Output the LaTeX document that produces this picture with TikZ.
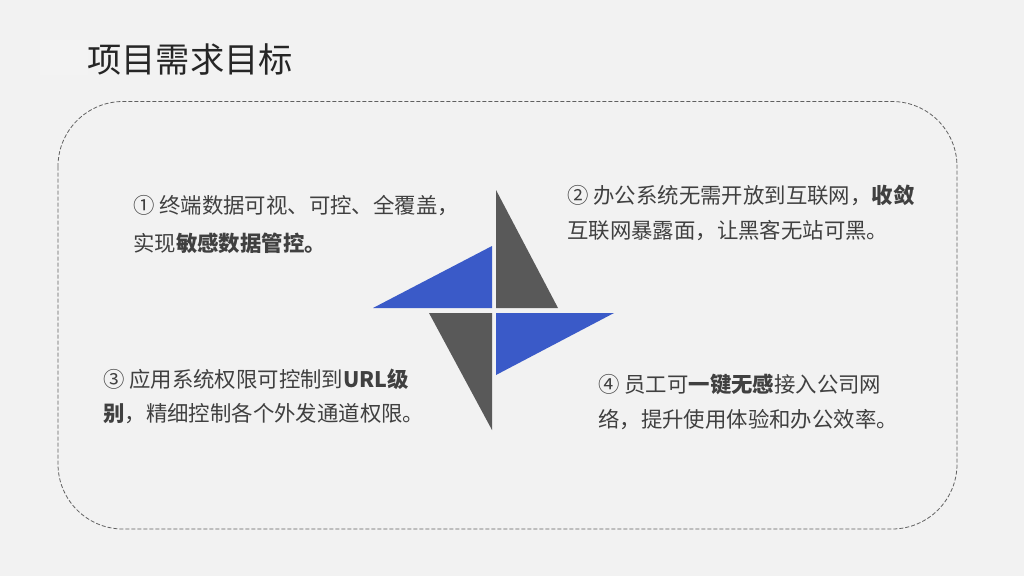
\documentclass[tikz,border=0pt]{standalone}
\usepackage{fontspec}
\setmainfont{Noto Sans CJK SC}
\definecolor{bgc}{HTML}{F2F2F2}
\definecolor{txt}{HTML}{404040}
\definecolor{ttl}{HTML}{262626}
\definecolor{bluec}{HTML}{3A5AC8}
\definecolor{darkc}{HTML}{595959}
\definecolor{dashc}{HTML}{606060}
\begin{document}
\begin{tikzpicture}[x=1pt,y=-1pt,
  body/.style={anchor=west,inner sep=0pt,text=txt,font=\fontsize{21.4}{25}\selectfont},
  bluetri/.style={fill=bluec,draw=none},
  darktri/.style={fill=darkc,draw=none}]
\useasboundingbox (0,0) rectangle (1024,576);
\fill[bgc] (0,0) rectangle (1024,576);
\fill[white,opacity=0.08] (40,40) rectangle (88,75);
% title
\node[anchor=west,inner sep=0pt,text=ttl,font=\fontsize{34.3}{40}\selectfont] (title) at (87,59) {项目需求目标};
% dashed frame
\draw[dashc,line width=0.8pt,dash pattern=on 4pt off 2pt,rounded corners=65pt] (58,101.5) rectangle (957,529);
% pinwheel
\fill[darktri] (496,190) -- (496,308) -- (558,308) -- cycle;
\fill[bluetri] (373,308) -- (492,246) -- (492,308) -- cycle;
\fill[bluetri] (496,313) -- (614,313) -- (496,375) -- cycle;
\fill[darktri] (429,313) -- (492,313) -- (492,430) -- cycle;
% texts
\node[body] (t1a) at (133,206) {① 终端数据可视、可控、全覆盖，};
\node[body] (t1b) at (133,243) {实现\textbf{敏感数据管控。}};
\node[body] (t2a) at (567,195) {② 办公系统无需开放到互联网，\textbf{收敛}};
\node[body] (t2b) at (567,231) {互联网暴露面，让黑客无站可黑。};
\node[body] (t3a) at (103,379) {③ 应用系统权限可控制到\textbf{URL级}};
\node[body] (t3b) at (103,414) {\textbf{别}，精细控制各个外发通道权限。};
\node[body] (t4a) at (598,384) {④ 员工可\textbf{一键无感}接入公司网};
\node[body] (t4b) at (598,420) {络，提升使用体验和办公效率。};
\end{tikzpicture}
\end{document}
